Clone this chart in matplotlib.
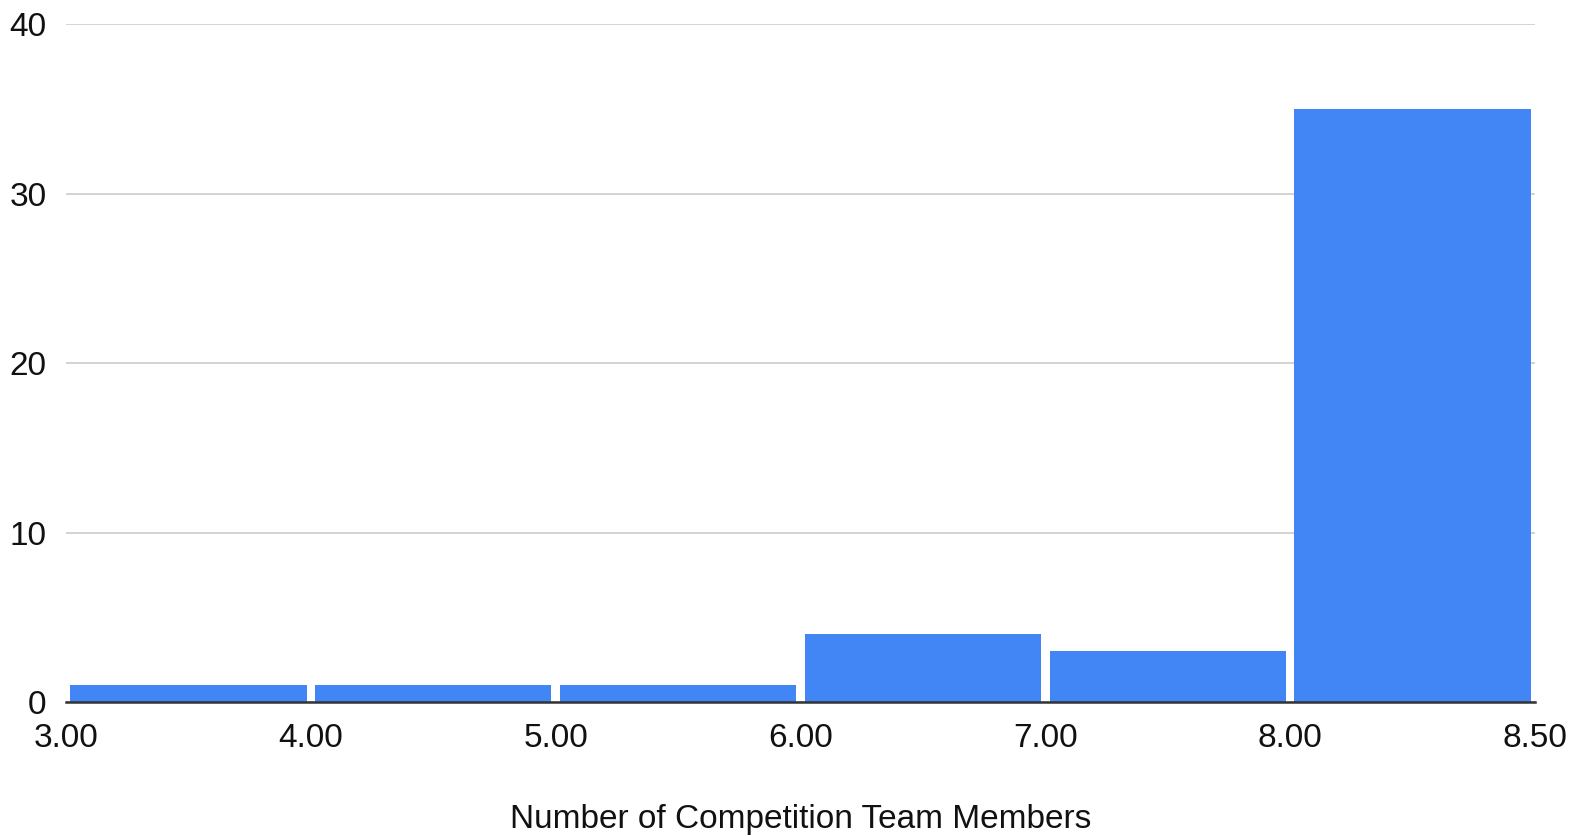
import matplotlib.pyplot as plt
import numpy as np

plt.rcParams["font.family"] = ["Liberation Sans", "DejaVu Sans"]

bin_edges = [3.0, 4.0, 5.0, 6.0, 7.0, 8.0, 8.5]
counts = [1, 1, 1, 4, 3, 35]
y_ticks = [0, 10, 20, 30, 40]

fig = plt.figure(figsize=(15.73, 8.36), dpi=100)
ax = fig.add_axes([0.042, 0.160, 0.9338, 0.811])

# bins are drawn equally wide, the edges only label the boundaries
pos = np.arange(len(counts)) + 0.5
ax.bar(pos, counts, width=0.965, color="#4285F4", zorder=3)

ax.set_xlim(0, len(counts))
ax.set_ylim(0, 40)
ax.set_xticks(np.arange(len(bin_edges)))
ax.set_xticklabels([f"{v:.2f}" for v in bin_edges])
ax.set_yticks(y_ticks)
ax.grid(axis="y", color="#cccccc", linewidth=1.2, zorder=0)
ax.tick_params(axis="both", length=0, labelsize=24, colors="#111111")
ax.tick_params(axis="y", pad=14)
ax.tick_params(axis="x", pad=15)

for side in ["top", "right", "left"]:
    ax.spines[side].set_visible(False)
ax.spines["bottom"].set_color("#333333")
ax.spines["bottom"].set_linewidth(1.8)
ax.spines["bottom"].set_zorder(4)

ax.set_xlabel("Number of Competition Team Members", fontsize=24, labelpad=36,
              color="#111111")

fig.savefig("out.png", dpi=100)
